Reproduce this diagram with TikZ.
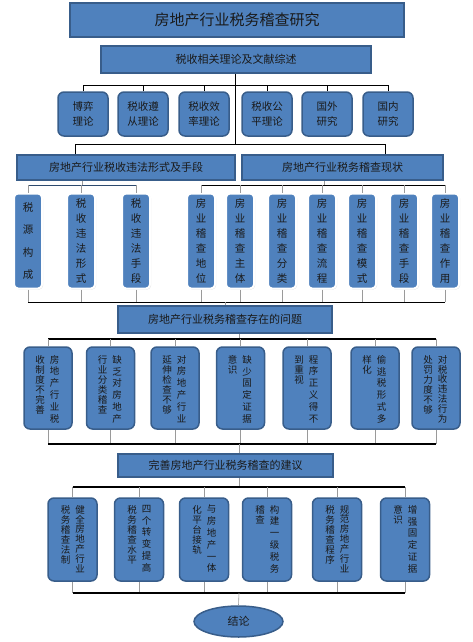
\documentclass[tikz,border=0pt]{standalone}
\usepackage{fontspec}
\setmainfont{Noto Sans CJK SC}
\usetikzlibrary{shapes.geometric,shadows}
\definecolor{bfill}{HTML}{4F81BD}
\definecolor{bdraw}{HTML}{385D8A}
\definecolor{tline}{HTML}{9A9A9A}
\definecolor{txt}{HTML}{1A1A1A}
\tikzset{
  sqbox/.style={rectangle, fill=bfill, draw=bdraw, line width=1.5pt, inner sep=0pt, text=txt},
  rbox/.style={sqbox, rounded corners=6pt},
  tbox/.style={rectangle, rounded corners=4pt, fill=bfill, draw=white, line width=2pt, inner sep=0pt, text=txt,
    drop shadow={shadow xshift=1pt, shadow yshift=-1pt, fill=gray!55}},
  coltxt/.style={anchor=north, align=center, inner sep=0pt, text=txt},
  busline/.style={draw=black, line width=0.8pt},
  thickbus/.style={draw=black, line width=1.8pt},
  tick/.style={draw=tline, line width=0.6pt},
  darktick/.style={draw=bdraw!80!black, line width=0.7pt}
}
\newcommand\probbox[5]{%
  \node[rbox, minimum width=48pt, minimum height=82pt] (#1) at (#2,388) {};
  \node[coltxt, font=\fontsize{9.5pt}{#3pt}\selectfont] (#1r) at (#2+6.5,355) {#4};
  \node[coltxt, font=\fontsize{9.5pt}{10pt}\selectfont] (#1l) at (#2-8,355) {#5};
}
\newcommand\suggbox[5]{%
  \node[rbox, minimum width=49pt, minimum height=83pt] (#1) at (#2,539.5) {};
  \node[coltxt, font=\fontsize{9.5pt}{#3pt}\selectfont] (#1r) at (#2+7.5,505) {#4};
  \node[coltxt, font=\fontsize{9.5pt}{10pt}\selectfont] (#1l) at (#2-7,505) {#5};
}
\begin{document}
\begin{tikzpicture}[x=1pt,y=-1pt]
\useasboundingbox (0,0) rectangle (472,642);

% bus coordinates
\coordinate (L85) at (0,85);
\coordinate (L144) at (0,144);
\coordinate (L185) at (0,185);
\coordinate (L302) at (0,302);
\coordinate (L339) at (0,339);
\coordinate (L444) at (0,444);
\coordinate (L487) at (0,487);
\coordinate (L593) at (0,593);

% level 0 / 1
\node[sqbox, line width=2pt, minimum width=334pt, minimum height=34pt, font=\fontsize{15pt}{15pt}\selectfont] (title) at (237,20) {房地产行业税务稽查研究};
\node[sqbox, line width=2pt, minimum width=270pt, minimum height=27pt, font=\fontsize{11pt}{11pt}\selectfont] (lit) at (236,59.5) {税收相关理论及文献综述};

% level 2
\foreach \n/\x/\t in {a1/83/{博弈\\理论}, a2/143/{税收遵\\从理论}, a3/204/{税收效\\率理论}, a4/267/{税收公\\平理论}, a5/327/{国外\\研究}, a6/388/{国内\\研究}}{
  \node[rbox, minimum width=50pt, minimum height=44pt, align=center, font=\fontsize{10.5pt}{15pt}\selectfont] (\n) at (\x,114) {\t};
}

% level 3
\node[sqbox, minimum width=218pt, minimum height=25pt, font=\fontsize{11pt}{11pt}\selectfont] (ill) at (126,167.5) {房地产行业税收违法形式及手段};
\node[sqbox, minimum width=201pt, minimum height=25pt, font=\fontsize{11pt}{11pt}\selectfont] (cur) at (342.5,167.5) {房地产行业税务稽查现状};

% level 4 tall boxes
\node[tbox, minimum width=28pt, minimum height=95pt, align=center, font=\fontsize{10.5pt}{22.6pt}\selectfont] (t1) at (28,241) {税\\源\\构\\成};
\foreach \n/\x/\t in {t2/81/{税\\收\\违\\法\\形\\式}, t3/136/{税\\收\\违\\法\\手\\段}, t4/201/{房\\业\\稽\\查\\地\\位}, t5/240/{房\\业\\稽\\查\\主\\体}, t6/282/{房\\业\\稽\\查\\分\\类}, t7/322/{房\\业\\稽\\查\\流\\程}, t8/362/{房\\业\\稽\\查\\模\\式}, t9/404/{房\\业\\稽\\查\\手\\段}, t10/445/{房\\业\\稽\\查\\作\\用}}{
  \node[tbox, minimum width=28pt, minimum height=95pt, align=center, font=\fontsize{10.5pt}{15pt}\selectfont] (\n) at (\x,241) {\t};
}

% level 5
\node[sqbox, minimum width=214pt, minimum height=27pt, font=\fontsize{11pt}{11pt}\selectfont] (prob) at (225,319.5) {房地产行业税务稽查存在的问题};
\probbox{p1}{48}{11.8}{房\\地\\产\\行\\业\\税}{收\\制\\度\\不\\完\\善}
\probbox{p2}{110.5}{11.8}{缺\\乏\\对\\房\\地\\产}{行\\业\\分\\类\\稽\\查}
\probbox{p3}{175}{11.8}{对\\房\\地\\产\\行\\业}{延\\伸\\检\\查\\不\\够}
\probbox{p4}{240.5}{11.8}{缺\\少\\固\\定\\证\\据}{意\\识}
\probbox{p5}{307}{11.8}{程\\序\\正\\义\\得\\不}{到\\重\\视}
\probbox{p6}{375}{11.8}{偷\\逃\\税\\形\\式\\多}{样\\化}
\probbox{p7}{436}{9.83}{对\\税\\收\\违\\法\\行\\为}{处\\罚\\力\\度\\不\\够}

% level 6
\node[sqbox, minimum width=215pt, minimum height=23pt, font=\fontsize{11pt}{11pt}\selectfont] (sugg) at (225.5,465.5) {完善房地产行业税务稽查的建议};
\suggbox{s1}{72.5}{9.83}{健\\全\\房\\地\\产\\行\\业}{税\\务\\稽\\查\\法\\制}
\suggbox{s2}{139}{11.8}{四\\个\\转\\变\\提\\高}{税\\务\\稽\\查\\水\\平}
\suggbox{s3}{204}{11.8}{与\\房\\地\\产\\一\\体}{化\\平\\台\\接\\轨}
\suggbox{s4}{267}{11.8}{构\\建\\一\\级\\税\\务}{稽\\查}
\suggbox{s5}{337}{9.83}{规\\范\\房\\地\\产\\行\\业}{税\\务\\稽\\查\\程\\序}
\suggbox{s6}{405}{11.8}{增\\强\\固\\定\\证\\据}{意\\识}

% conclusion
\node[ellipse, fill=bfill, draw=bdraw, line width=1.5pt, minimum width=89pt, minimum height=31pt, inner sep=0pt, text=txt, font=\fontsize{11pt}{11pt}\selectfont] (concl) at (238.5,621.5) {结论};

% ---- connectors ----
% literature -> level2 and level3
\coordinate (v1) at (235,144);
\draw[busline] (lit.south -| v1) -- (v1);
\draw[busline] (a1.north |- L85) -- (a6.north |- L85);
\foreach \n in {a1,a2,a3,a4,a5,a6}{\draw[busline] (\n.north) -- (\n.north |- L85);}
\coordinate (c75) at (75,144);
\coordinate (c385) at (385,144);
\draw[busline] (c75) -- (c385);
\draw[busline] (c75) -- (c75 |- ill.north);
\draw[busline] (c385) -- (c385 |- cur.north);

% level3 -> level4
\coordinate (k82) at (82,185);
\draw[tick] (k82 |- ill.south) -- (k82);
\draw[darktick] (t1.north |- L185) -- (t3.north |- L185);
\foreach \n in {t1,t2,t3}{\draw[tick] (\n.north) -- (\n.north |- L185);}
\coordinate (k324) at (324,185);
\draw[tick] (k324 |- cur.south) -- (k324);
\draw[busline] (t4.north |- L185) -- (t10.north |- L185);
\foreach \n in {t4,t5,t6,t7,t8,t9,t10}{\draw[tick] (\n.north) -- (\n.north |- L185);}

% level4 -> problems
\foreach \n in {t1,t2,t3,t4,t5,t6,t7,t8,t9,t10}{\draw[tick] (\n.south) -- (\n.south |- L302);}
\draw[busline] (t1.south |- L302) -- (t10.south |- L302);
\coordinate (k225) at (225,302);
\draw[tick] (k225) -- (k225 |- prob.north);

% problems
\coordinate (k239a) at (239,339);
\draw[tick] (k239a |- prob.south) -- (k239a);
\draw[thickbus] (p1.north |- L339) -- (p7.north |- L339);
\foreach \n in {p1,p2,p3,p4,p5,p6,p7}{\draw[tick] (\n.north) -- (\n.north |- L339);}
\foreach \n in {p1,p2,p3,p4,p5,p6,p7}{\draw[tick] (\n.south) -- (\n.south |- L444);}
\draw[busline, line width=1.1pt] (p1.south |- L444) -- (p7.south |- L444);
\coordinate (k239b) at (239,444);
\draw[tick] (k239b) -- (k239b |- sugg.north);

% suggestions
\coordinate (k239c) at (239,487);
\draw[tick] (k239c |- sugg.south) -- (k239c);
\draw[thickbus] (s1.north |- L487) -- (s6.north |- L487);
\foreach \n in {s1,s2,s3,s4,s5,s6}{\draw[tick] (\n.north) -- (\n.north |- L487);}
\foreach \n in {s1,s2,s3,s4,s5,s6}{\draw[tick] (\n.south) -- (\n.south |- L593);}
\draw[busline, line width=1.1pt] (s1.south |- L593) -- (s6.south |- L593);
\coordinate (k239d) at (239,593);
\draw[tick] (k239d) -- (concl.north);
\end{tikzpicture}
\end{document}
